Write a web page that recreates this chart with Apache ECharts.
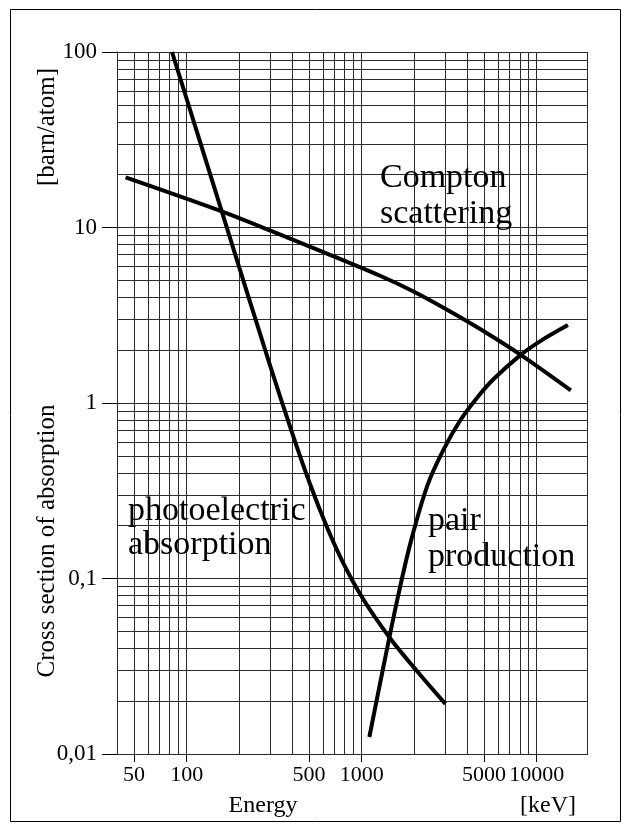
<!DOCTYPE html>
<html>
<head>
<meta charset="utf-8">
<script src="https://cdn.jsdelivr.net/npm/echarts@6/dist/echarts.min.js"></script>
<style>
  html, body { margin: 0; padding: 0; background: #fff; }
  #chart { width: 630px; height: 831px; }
</style>
</head>
<body>
<div id="chart"></div>
<script>
// Photon energy (keV) and cross section (barn/atom) for each absorption process
var photoEnergy = [82.5, 158.7, 301, 400, 508, 632, 786, 1021, 1453, 2068, 3006];
var photoValues = [100, 12.36, 1.61, 0.679, 0.343, 0.197, 0.122, 0.0762, 0.0457, 0.0297, 0.0193];

var comptonEnergy = [44.8, 158.7, 301, 624, 1274, 1977, 3074, 4774, 8098, 15660];
var comptonValues = [19.3, 12.36, 9.6, 7.15, 5.31, 4.32, 3.40, 2.63, 1.88, 1.18];

var pairEnergy = [1106, 1343, 1594, 1892, 2369, 2929, 3667, 4590, 5673, 8098, 10540, 15070];
var pairValues = [0.0125, 0.0329, 0.075, 0.157, 0.337, 0.54, 0.80, 1.08, 1.37, 1.88, 2.26, 2.78];

// Axis ranges, ticks and labels
var xMin = 40, xMax = 19500;
var yMin = 0.01, yMax = 100;
var xTickValues = [50, 100, 500, 1000, 5000, 10000];
var xTickLabels = ['50', '100', '500', '1000', '5000', '10000'];
var yTickValues = [0.01, 0.1, 1, 10, 100];
var yTickLabels = ['0,01', '0,1', '1', '10', '100'];

// Logarithmic grid lines
var xGridValues = [40, 50, 60, 70, 80, 90,
  100, 200, 300, 400, 500, 600, 700, 800, 900,
  1000, 2000, 3000, 4000, 5000, 6000, 7000, 8000, 9000,
  10000, xMax];
var yGridValues = [0.01, 0.02, 0.03, 0.04, 0.05, 0.06, 0.07, 0.08, 0.09,
  0.1, 0.2, 0.3, 0.4, 0.5, 0.6, 0.7, 0.8, 0.9,
  1, 2, 3, 4, 5, 6, 7, 8, 9,
  10, 20, 30, 40, 50, 60, 70, 80, 90, 100];

var FONT = "'Liberation Serif', 'Times New Roman', serif";

function pairs(xs, ys) {
  return xs.map(function (x, i) { return [x, ys[i]]; });
}

function labelFor(values, labels) {
  return function (v) {
    for (var i = 0; i < values.length; i++) {
      if (Math.abs(Math.log10(v) - Math.log10(values[i])) < 1e-6) return labels[i];
    }
    return '';
  };
}

function curve(name, xs, ys) {
  return {
    name: name,
    type: 'line',
    data: pairs(xs, ys),
    smooth: 0.3,
    showSymbol: false,
    symbol: 'none',
    z: 5,
    lineStyle: { color: '#000', width: 4, cap: 'butt', join: 'round' },
    emphasis: { disabled: true },
    silent: true,
    animation: false
  };
}

var chart = echarts.init(document.getElementById('chart'), null, { renderer: 'canvas' });

chart.setOption({
  backgroundColor: '#fff',
  animation: false,
  grid: { left: 117, right: 42.5, top: 52, bottom: 77, containLabel: false },
  xAxis: {
    type: 'log',
    logBase: 10,
    min: xMin,
    max: xMax,
    axisLine: { show: true, lineStyle: { color: '#000', width: 1 } },
    axisTick: {
      show: true, inside: false, length: 8,
      customValues: xTickValues,
      lineStyle: { color: '#000', width: 1 }
    },
    axisLabel: {
      show: true, margin: 10,
      customValues: xTickValues,
      color: '#000', fontFamily: FONT, fontSize: 22,
      formatter: labelFor(xTickValues, xTickLabels)
    },
    splitLine: { show: false },
    minorTick: { show: false },
    minorSplitLine: { show: false }
  },
  yAxis: {
    type: 'log',
    logBase: 10,
    min: yMin,
    max: yMax,
    axisLine: { show: true, lineStyle: { color: '#000', width: 1 } },
    axisTick: {
      show: true, inside: false, length: 15,
      customValues: yTickValues,
      lineStyle: { color: '#000', width: 1 }
    },
    axisLabel: {
      show: true, margin: 20,
      customValues: yTickValues,
      color: '#000', fontFamily: FONT, fontSize: 23,
      formatter: labelFor(yTickValues, yTickLabels)
    },
    splitLine: { show: false },
    minorTick: { show: false },
    minorSplitLine: { show: false }
  },
  series: [
    {
      name: 'grid',
      type: 'line',
      data: [],
      z: 1,
      silent: true,
      animation: false,
      markLine: {
        silent: true,
        animation: false,
        symbol: ['none', 'none'],
        label: { show: false },
        emphasis: { disabled: true },
        lineStyle: { type: 'solid', color: '#2a2a2a', width: 1 },
        data: xGridValues.map(function (v) { return { xAxis: v }; })
          .concat(yGridValues.map(function (v) { return { yAxis: v }; }))
      }
    },
    curve('photoelectric absorption', photoEnergy, photoValues),
    curve('Compton scattering', comptonEnergy, comptonValues),
    curve('pair production', pairEnergy, pairValues)
  ],
  graphic: [
    {
      type: 'rect', z: 0, silent: true,
      shape: { x: 10.5, y: 9.5, width: 610, height: 812 },
      style: { fill: 'none', stroke: '#000', lineWidth: 1 }
    },
    {
      type: 'text', z: 10, silent: true, left: 380, top: 160,
      style: { text: 'Compton\nscattering', font: '34px ' + FONT, fill: '#000', lineHeight: 36 }
    },
    {
      type: 'text', z: 10, silent: true, left: 128, top: 494,
      style: { text: 'photoelectric\nabsorption', font: '34px ' + FONT, fill: '#000', lineHeight: 34 }
    },
    {
      type: 'text', z: 10, silent: true, left: 428, top: 503,
      style: { text: 'pair\nproduction', font: '34px ' + FONT, fill: '#000', lineHeight: 36 }
    },
    {
      type: 'text', z: 10, silent: true,
      x: 263, y: 806,
      style: { text: 'Energy', font: '24px ' + FONT, fill: '#000', align: 'center', verticalAlign: 'middle' }
    },
    {
      type: 'text', z: 10, silent: true,
      x: 548, y: 806,
      style: { text: '[keV]', font: '24px ' + FONT, fill: '#000', align: 'center', verticalAlign: 'middle' }
    },
    {
      type: 'text', z: 10, silent: true,
      x: 47, y: 127, rotation: Math.PI / 2,
      style: { text: '[barn/atom]', font: '25px ' + FONT, fill: '#000', align: 'center', verticalAlign: 'middle' }
    },
    {
      type: 'text', z: 10, silent: true,
      x: 47, y: 541, rotation: Math.PI / 2,
      style: { text: 'Cross section of absorption', font: '25px ' + FONT, fill: '#000', align: 'center', verticalAlign: 'middle' }
    }
  ]
});
</script>
</body>
</html>
